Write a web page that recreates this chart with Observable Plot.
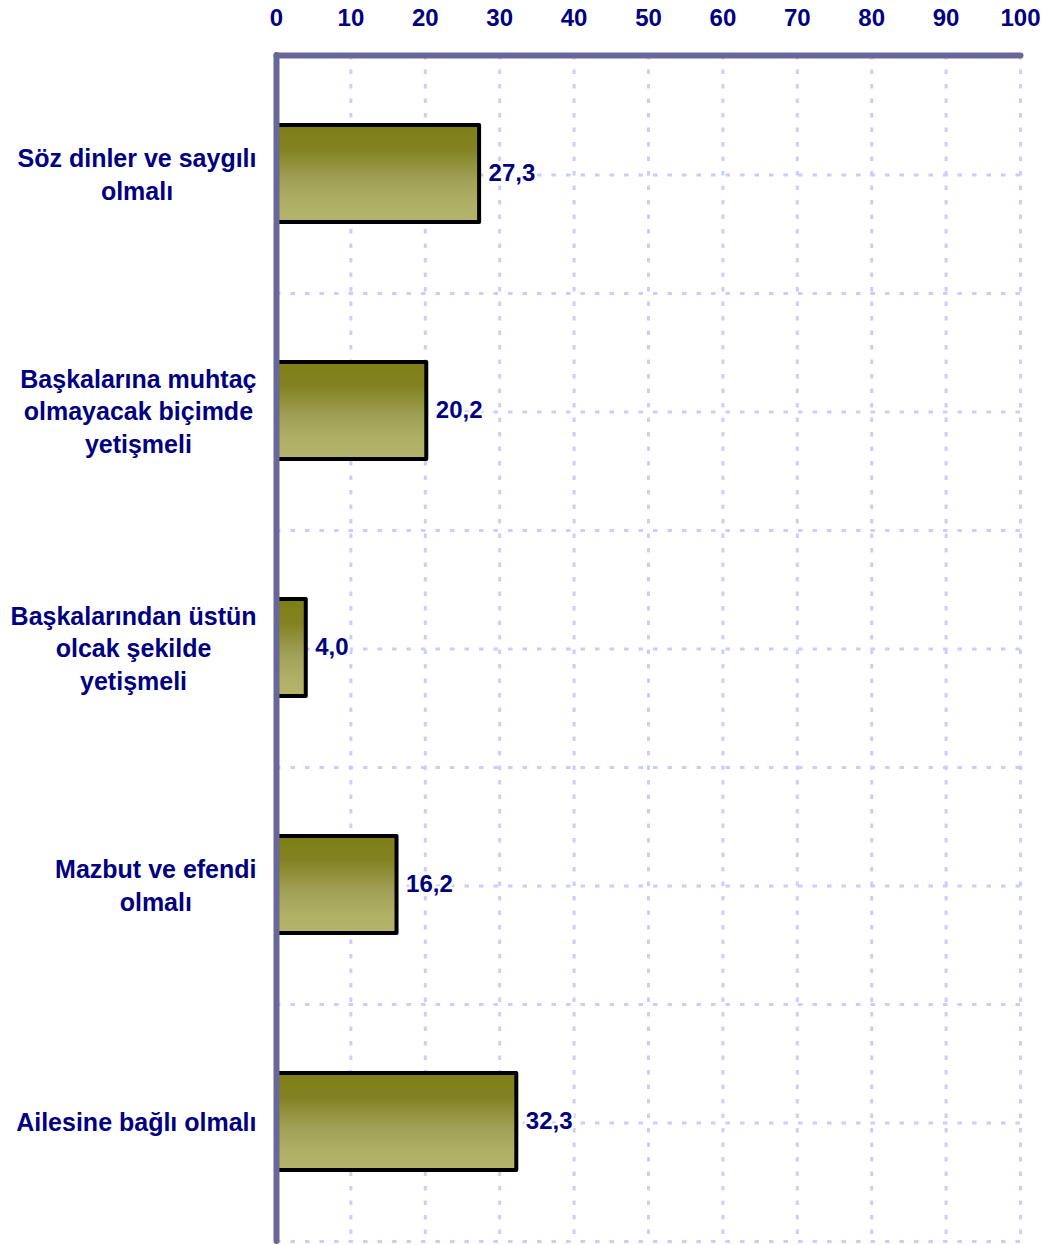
<!DOCTYPE html>
<html>
<head>
<meta charset="utf-8">
<script src="https://cdn.jsdelivr.net/npm/d3@7"></script>
<script src="https://cdn.jsdelivr.net/npm/@observablehq/plot@0.6"></script>
<style>
  html, body { margin: 0; padding: 0; background: #fff; }
</style>
</head>
<body>
<div id="chart"></div>
<script>
// ---- data ----
const categories = [
  "Söz dinler ve saygılı\nolmalı",
  "Başkalarına muhtaç\nolmayacak biçimde\nyetişmeli",
  "Başkalarından üstün\nolcak şekilde\nyetişmeli",
  "Mazbut ve efendi\nolmalı",
  "Ailesine bağlı olmalı"
];
const values = [27.3, 20.2, 4.0, 16.2, 32.3];
const xTicks = [0, 10, 20, 30, 40, 50, 60, 70, 80, 90, 100];

const data = categories.map((c, i) => ({category: c, value: values[i]}));

// ---- layout / style ----
const W = 1050, H = 1245;
const mTop = 55, mBottom = 4, mLeft = 276, mRight = 30;
const step = (H - mTop - mBottom) / categories.length;
const navy = "#000080";
const axisColor = "#676799";
const gridColor = "#ccccff";
const dash = "4.5,10";
const font = "'Liberation Sans', Arial, sans-serif";
const catFontSize = 25;

const canvas = document.createElement("canvas");
const ctx = canvas.getContext("2d");
ctx.font = `bold ${catFontSize}px 'Liberation Sans'`;
const blockWidth = s => Math.max(...s.split("\n").map(l => ctx.measureText(l).width));

const ns = "http://www.w3.org/2000/svg";
const gradientDefs = () => {
  const defs = document.createElementNS(ns, "defs");
  const g = document.createElementNS(ns, "linearGradient");
  g.setAttribute("id", "oliveGrad");
  g.setAttribute("x1", "0"); g.setAttribute("y1", "0");
  g.setAttribute("x2", "0"); g.setAttribute("y2", "1");
  [["0%", "#7f7f18"], ["25%", "#828222"], ["55%", "#9f9f55"], ["80%", "#afaf66"], ["100%", "#b4b46c"]]
    .forEach(([o, c]) => {
      const s = document.createElementNS(ns, "stop");
      s.setAttribute("offset", o); s.setAttribute("stop-color", c);
      g.appendChild(s);
    });
  defs.appendChild(g);
  return defs;
};

const chart = Plot.plot({
  width: W, height: H,
  marginTop: mTop, marginBottom: mBottom, marginLeft: mLeft, marginRight: mRight,
  style: {fontFamily: font, fontWeight: "bold", background: "white", overflow: "visible"},
  x: {domain: [0, 100], axis: null},
  y: {domain: categories, padding: 0, axis: null},
  marks: [
    gradientDefs,
    // vertical dashed grid
    Plot.gridX(xTicks, {stroke: gridColor, strokeOpacity: 1, strokeWidth: 3, strokeDasharray: dash}),
    // horizontal grid at band centers
    Plot.ruleY(categories, {y: d => d, stroke: gridColor, strokeWidth: 3, strokeDasharray: dash}),
    // horizontal grid at band boundaries
    Plot.ruleY(categories, {y: d => d, dy: step / 2, stroke: gridColor, strokeWidth: 3, strokeDasharray: dash}),
    // bars
    Plot.barX(data, {
      x1: d => 0, x2: "value", y: "category",
      fill: "url(#oliveGrad)", stroke: "black", strokeWidth: 4, strokeLinejoin: "round",
      insetTop: 69, insetBottom: 71
    }),
    // value labels
    Plot.text(data, {
      x: "value", y: "category",
      text: d => d.value.toFixed(1).replace(".", ","),
      textAnchor: "start", dx: 9, dy: -2, fontSize: 24, fontWeight: "bold",
      fill: navy, stroke: "white", strokeWidth: 5
    }),
    // category labels
    ...categories.map(c => Plot.text([c], {
      x: d => 0, y: d => d, text: d => d,
      textAnchor: "middle", lineAnchor: "middle", lineHeight: 1.3, dy: -2,
      dx: -(20 + blockWidth(c) / 2),
      fontSize: catFontSize, fontWeight: "bold", fill: navy
    })),
    // axis lines
    Plot.ruleX([0], {stroke: axisColor, strokeWidth: 6, strokeLinecap: "round"}),
    Plot.frame({anchor: "top", stroke: axisColor, strokeWidth: 6, strokeLinecap: "round"}),
    // top tick labels
    Plot.axisX(xTicks, {anchor: "top", tickSize: 0, tickPadding: 30, fontSize: 24, fontWeight: "bold", color: navy, label: null})
  ]
});
document.getElementById("chart").appendChild(chart);
</script>
</body>
</html>
